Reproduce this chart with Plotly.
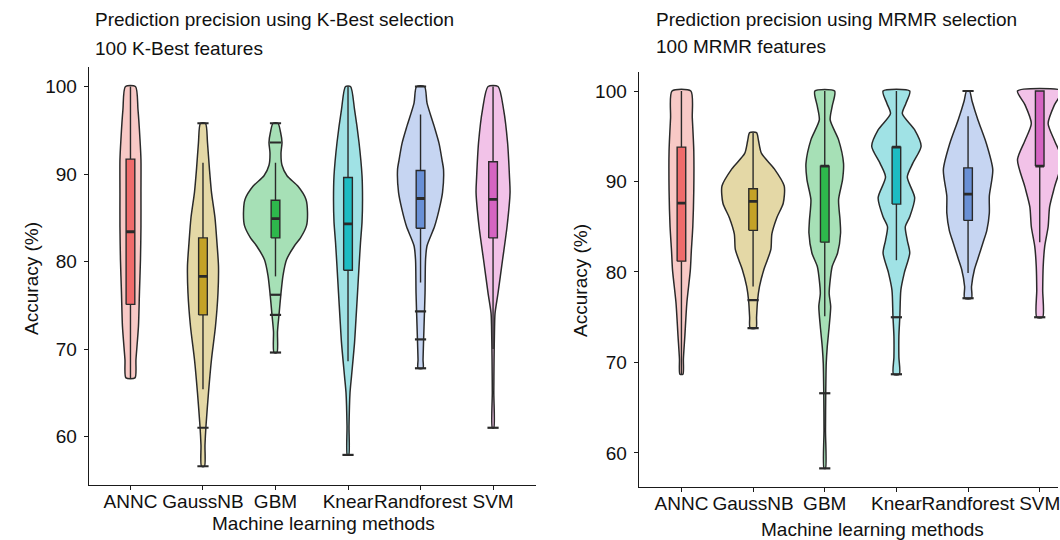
import plotly.graph_objects as go

# ---------------- data ----------------
methods = ["ANNC", "GaussNB", "GBM", "Knear", "Randforest", "SVM"]
violin_fill = ["#F8C9C6", "#E4D8A6", "#A6E0B6", "#A0E2E5", "#C6D5F2", "#F2C2E8"]
box_fill = ["#EF6B6B", "#C4A226", "#2EB84C", "#1DBCC3", "#6990D6", "#D564C2"]

# K-Best: violin density profiles (accuracy level, relative density width)
kb_annc_y = [100.0, 97.4, 94.0, 91.6, 87.9, 84.0, 80.2, 76.5, 72.6, 68.8, 66.7]
kb_annc_w = [10, 15, 19, 21, 21, 21, 20, 18, 16, 11, 9]
kb_gauss_y = [95.8, 93.6, 90.5, 87.9, 85.0, 82.1, 79.5, 76.4, 72.6, 68.8, 65.0, 61.2, 59.0, 56.6]
kb_gauss_w = [5, 9, 13, 17, 24, 28, 31, 30, 25, 17, 11, 6, 4, 3]
kb_gbm_y = [95.8, 94.8, 93.6, 92.4, 91.0, 89.8, 88.6, 87.1, 85.6, 84.1, 82.7, 81.8, 80.2, 78.4, 76.4, 73.9, 72.0, 69.6]
kb_gbm_w = [5, 10, 13, 11, 13, 23, 45, 61, 64, 62, 50, 38, 22, 15, 11, 7, 4, 3]
kb_knear_y = [100.0, 97.4, 93.6, 89.8, 87.1, 84.5, 82.2, 79.4, 76.4, 73.5, 70.7, 66.9, 65.0, 61.2, 57.9]
kb_knear_w = [5, 13, 22, 28, 29, 28, 25, 22, 19, 16, 13, 7, 4, 2, 1.5]
kb_rf_y = [100.0, 98.1, 95.5, 93.5, 91.6, 90.5, 87.9, 85.9, 84.0, 81.8, 80.2, 76.4, 72.6, 68.8, 67.8]
kb_rf_w = [8, 13, 27, 37, 43, 46, 44, 37, 28, 13, 10, 9, 7, 5, 5]
kb_svm_y = [100.0, 97.4, 93.6, 89.5, 87.9, 84.0, 80.2, 76.4, 74.1, 72.6, 68.8, 65.0, 61.0]
kb_svm_w = [10, 21, 29, 33, 34, 28, 19, 10, 4, 3, 2, 1.5, 1.5]

# K-Best: box statistics
kb_q1 = [75.1, 73.9, 82.7, 79.0, 83.8, 82.7]
kb_median = [83.4, 78.3, 84.9, 84.3, 87.2, 87.1]
kb_q3 = [91.7, 82.7, 87.0, 89.6, 90.4, 91.4]
kb_lower = [66.7, 65.4, 78.3, 68.6, 77.6, 70.0]
kb_upper = [100.0, 91.3, 91.3, 100.0, 96.8, 100.0]
kb_outliers = [[], [95.8, 61.0, 56.6], [95.8, 93.6, 76.2, 73.9, 69.6], [57.9],
               [100.0, 74.3, 71.1, 67.8], [61.0]]

# MRMR: violin density profiles
mr_annc_y = [100.0, 97.0, 93.4, 89.0, 85.0, 82.3, 80.2, 76.6, 73.0, 70.4, 68.7]
mr_annc_w = [19, 22, 25, 25, 23, 20, 18, 11, 7, 4, 3]
mr_gauss_y = [95.4, 94.5, 93.1, 91.4, 89.5, 87.6, 86.0, 84.2, 82.5, 81.2, 80.3, 78.4, 76.8, 75.0, 73.8]
mr_gauss_w = [7, 11, 17, 43, 63, 61, 48, 38, 36, 28, 22, 13, 9, 7, 6]
mr_gbm_y = [100.0, 98.3, 96.8, 94.6, 92.0, 90.2, 88.0, 85.7, 84.3, 82.1, 80.6, 79.1, 77.6, 76.2,
            74.0, 71.7, 69.9, 66.6, 62.5, 58.3]
mr_gbm_w = [20, 15, 11, 28, 38, 36, 28, 31, 32, 26, 15, 11, 9, 12, 9, 5, 3, 2, 1.5, 1.5]
mr_knear_y = [100.0, 98.6, 97.5, 95.7, 93.9, 92.0, 90.5, 88.2, 86.1, 85.0, 83.5, 82.1, 79.9, 78.0,
              75.1, 72.9, 70.6, 68.7]
mr_knear_w = [27, 19, 12, 37, 50, 33, 22, 37, 27, 18, 22, 27, 16, 9, 7, 5, 5, 6]
mr_rf_y = [100.0, 98.9, 96.8, 94.2, 91.3, 88.4, 86.5, 84.6, 83.2, 81.5, 80.3, 78.4, 77.1]
mr_rf_w = [3, 8, 20, 37, 50, 43, 43, 38, 30, 20, 13, 7, 7]
mr_svm_y = [100.0, 98.5, 96.4, 94.5, 92.4, 89.4, 87.2, 85.0, 82.8, 80.6, 78.0, 75.0]
mr_svm_w = [45, 30, 17, 30, 45, 30, 20, 17, 10, 7, 6, 6]

# MRMR: box statistics
mr_q1 = [81.2, 84.6, 83.3, 87.5, 85.7, 91.7]
mr_median = [87.6, 87.8, 91.7, 93.8, 88.6, 91.7]
mr_q3 = [93.8, 89.2, 91.7, 93.8, 91.5, 100.0]
mr_lower = [68.7, 78.4, 75.1, 81.3, 79.9, 83.3]
mr_upper = [100.0, 95.4, 100.0, 100.0, 97.2, 100.0]
mr_outliers = [[], [76.9, 73.8], [66.6, 58.3], [75.0, 68.7], [100.0, 77.1], [75.0]]

y_ticks = [60, 70, 80, 90, 100]

# ---------------- styling ----------------
FONT = "Liberation Sans, Arial, sans-serif"
INK = "#2a2a2a"
DENSITY_SCALE = 1 / 72.5   # density unit -> category units
BOX_W = 0.12

fig = go.Figure()


def add_panel(xa, ya, profiles, q1, med, q3, lo, hi, outs):
    for i, (vals, dens) in enumerate(profiles):
        half = [d * DENSITY_SCALE / 2 for d in dens]
        xs = [i + h for h in half] + [i - h for h in reversed(half)] + [i + half[0]]
        ys = list(vals) + list(reversed(vals)) + [vals[0]]
        fig.add_trace(go.Scatter(
            x=xs, y=ys, xaxis=xa, yaxis=ya, mode="lines", fill="toself",
            fillcolor=violin_fill[i],
            line=dict(color=INK, width=1.5, shape="spline", smoothing=0.7),
            hoverinfo="skip", showlegend=False))
    for i in range(len(methods)):
        fig.add_trace(go.Scatter(
            x=[i, i, None, i, i], y=[q3[i], hi[i], None, q1[i], lo[i]],
            xaxis=xa, yaxis=ya, mode="lines", line=dict(color=INK, width=1.4),
            hoverinfo="skip", showlegend=False))
        fig.add_trace(go.Scatter(
            x=[i - BOX_W / 2, i + BOX_W / 2, i + BOX_W / 2, i - BOX_W / 2, i - BOX_W / 2],
            y=[q1[i], q1[i], q3[i], q3[i], q1[i]],
            xaxis=xa, yaxis=ya, mode="lines", fill="toself", fillcolor=box_fill[i],
            line=dict(color=INK, width=1.4), hoverinfo="skip", showlegend=False))
        fig.add_trace(go.Scatter(
            x=[i - BOX_W / 2, i + BOX_W / 2], y=[med[i], med[i]],
            xaxis=xa, yaxis=ya, mode="lines", line=dict(color=INK, width=2.8),
            hoverinfo="skip", showlegend=False))
        if outs[i]:
            fig.add_trace(go.Scatter(
                x=[i] * len(outs[i]), y=outs[i], xaxis=xa, yaxis=ya, mode="markers",
                marker=dict(symbol="line-ew", size=8, color=INK, line=dict(color=INK, width=2.2)),
                hoverinfo="skip", showlegend=False))


add_panel("x", "y",
          [(kb_annc_y, kb_annc_w), (kb_gauss_y, kb_gauss_w), (kb_gbm_y, kb_gbm_w),
           (kb_knear_y, kb_knear_w), (kb_rf_y, kb_rf_w), (kb_svm_y, kb_svm_w)],
          kb_q1, kb_median, kb_q3, kb_lower, kb_upper, kb_outliers)
add_panel("x2", "y2",
          [(mr_annc_y, mr_annc_w), (mr_gauss_y, mr_gauss_w), (mr_gbm_y, mr_gbm_w),
           (mr_knear_y, mr_knear_w), (mr_rf_y, mr_rf_w), (mr_svm_y, mr_svm_w)],
          mr_q1, mr_median, mr_q3, mr_lower, mr_upper, mr_outliers)

axis_common = dict(showline=True, linecolor="#1a1a1a", linewidth=1.4, ticks="outside",
                   ticklen=4, tickwidth=1.2, tickcolor="#1a1a1a", showgrid=False,
                   zeroline=False, tickfont=dict(family=FONT, size=19, color="#111"),
                   ticklabeloverflow="allow")
x_common = dict(tickvals=list(range(len(methods))), ticktext=methods, tickangle=0,
                ticklabelstandoff=-5)
y_common = dict(tickvals=y_ticks, ticklabelstandoff=3)

fig.update_layout(
    width=1060, height=540, margin=dict(l=0, r=0, t=0, b=0),
    paper_bgcolor="white", plot_bgcolor="white", showlegend=False,
    xaxis=dict(domain=[89 / 1060, 537 / 1060], range=[-0.574, 5.592], anchor="y",
               **x_common, **axis_common),
    yaxis=dict(domain=[55 / 540, 473 / 540], range=[54.46, 102.23], anchor="x",
               **y_common, **axis_common),
    xaxis2=dict(domain=[640 / 1060, 1.0], range=[-0.595, 5.255], anchor="y2",
                **x_common, **axis_common),
    yaxis2=dict(domain=[53 / 540, 468 / 540], range=[56.24, 102.10], anchor="x2",
                **y_common, **axis_common),
)

title_font = dict(family=FONT, size=19, color="#111")
ann = [
    dict(text="Prediction precision using K-Best selection", x=93 / 1060, y=1 - 20 / 540),
    dict(text="100 K-Best features", x=93 / 1060, y=1 - 48 / 540),
    dict(text="Prediction precision using MRMR selection", x=655 / 1060, y=1 - 20 / 540),
    dict(text="100 MRMR features", x=655 / 1060, y=1 - 47 / 540),
]
for a in ann:
    fig.add_annotation(xref="paper", yref="paper", xanchor="left", yanchor="middle",
                       showarrow=False, font=title_font, **a)

label_font = dict(family=FONT, size=19, color="#111")
fig.add_annotation(text="Machine learning methods", xref="paper", yref="paper",
                   x=324 / 1060, y=1 - 523 / 540, xanchor="center", yanchor="middle",
                   showarrow=False, font=label_font)
fig.add_annotation(text="Machine learning methods", xref="paper", yref="paper",
                   x=874 / 1060, y=1 - 529 / 540, xanchor="center", yanchor="middle",
                   showarrow=False, font=label_font)
fig.add_annotation(text="Accuracy (%)", xref="paper", yref="paper", textangle=-90,
                   x=31 / 1060, y=1 - 278 / 540, xanchor="center", yanchor="middle",
                   showarrow=False, font=label_font)
fig.add_annotation(text="Accuracy (%)", xref="paper", yref="paper", textangle=-90,
                   x=581 / 1060, y=1 - 280 / 540, xanchor="center", yanchor="middle",
                   showarrow=False, font=label_font)

fig.write_html("out.html", config={"displayModeBar": False},
               post_script="document.body.style.margin='0';document.body.style.overflow='hidden';")
